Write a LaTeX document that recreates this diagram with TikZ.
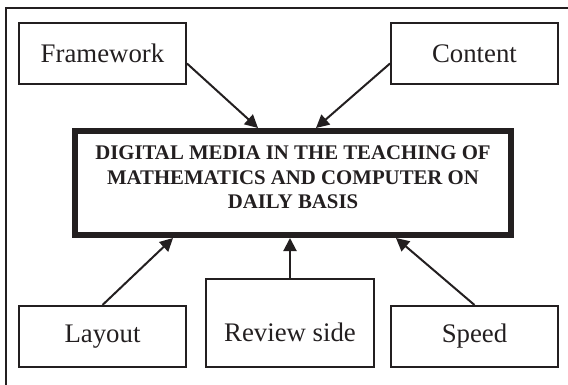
\documentclass[tikz,border=0pt]{standalone}
\usepackage{fontspec}
\setmainfont{Liberation Serif}
\usetikzlibrary{arrows.meta}
\definecolor{mapink}{HTML}{231F20}

\begin{document}
\begin{tikzpicture}[x=0.5pt,y=-0.5pt,
    factor/.style={draw=mapink,line width=1pt,minimum width=83.5pt,minimum height=30.5pt,
      inner sep=0pt,text=mapink,font=\fontsize{13.4}{15}\selectfont},
    link/.style={draw=mapink,line width=1pt,-{Triangle[length=6.5pt,width=6.5pt]}}]
    \useasboundingbox (0,0) rectangle (568,385);
    % outer frame (only top and left edge)
    \draw[mapink,line width=1pt] (6,385) -- (6,8) -- (568,8);
    % factors and the central theme
    \node[factor] (frame) at (102.5,53.5) {Framework};
    \node[factor] (content) at (474.5,53.5) {Content};
    \node[draw=mapink,line width=3pt,minimum width=218pt,minimum height=52pt,inner sep=0pt,
      align=center,text=mapink,font=\bfseries\fontsize{10.4}{12.25}\selectfont]
      (media) at (293,183) {DIGITAL MEDIA IN THE TEACHING OF\\MATHEMATICS AND COMPUTER ON\\DAILY BASIS\\[-6.75pt]};
    \node[factor] (layout) at (102.5,336.5) {Layout};
    \node[factor,minimum width=84pt,minimum height=44pt,text height=18pt,text depth=0pt]
      (review) at (290,323) {Review side};
    \node[factor] (speed) at (474.5,336.5) {Speed};
    % arrows into the theme box
    \draw[link] ([yshift=-5pt]frame.east) -- ([xshift=-17.5pt]media.north);
    \draw[link] ([yshift=-5pt]content.west) -- ([xshift=11.5pt]media.north);
    \draw[link] (layout.north) -- ([xshift=-60pt]media.south);
    \draw[link] (review.north) -- (review.north |- media.south);
    \draw[link] (speed.north) -- ([xshift=51.5pt]media.south);
\end{tikzpicture}
\end{document}
